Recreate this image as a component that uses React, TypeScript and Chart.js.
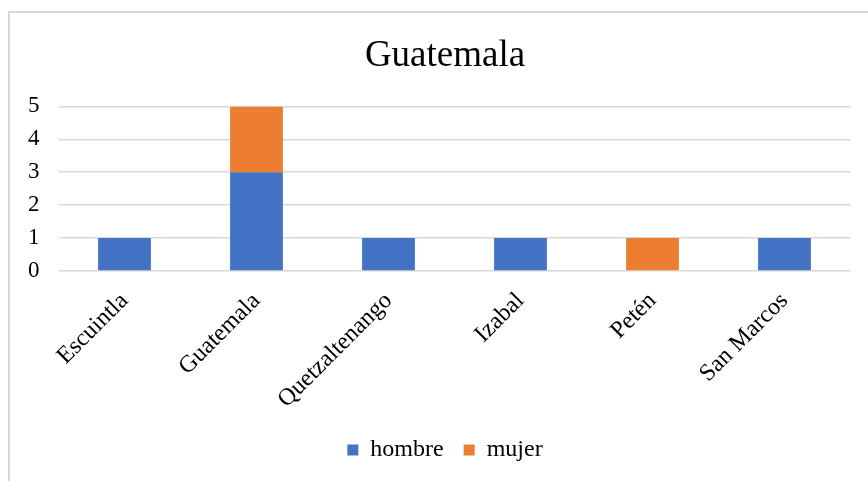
import React, { useEffect, useRef } from "react";
import { Chart, registerables } from "chart.js";

Chart.register(...registerables);

const categories = ["Escuintla", "Guatemala", "Quetzaltenango", "Izabal", "Petén", "San Marcos"];
const hombre = [1, 3, 1, 1, 0, 1];
const mujer = [0, 2, 0, 0, 1, 0];
const yTicks = [0, 1, 2, 3, 4, 5];
const titleText = "Guatemala";

const FONT = "'Liberation Serif', 'Times New Roman', serif";

export default function App() {
  const ref = useRef<HTMLCanvasElement | null>(null);

  useEffect(() => {
    if (!ref.current) return;
    const chart = new Chart(ref.current, {
      type: "bar",
      data: {
        labels: categories,
        datasets: [
          { label: "hombre", data: hombre, backgroundColor: "#4472C4", borderWidth: 0 },
          { label: "mujer", data: mujer, backgroundColor: "#ED7D31", borderWidth: 0 },
        ],
      },
      options: {
        animation: false,
        responsive: false,
        maintainAspectRatio: false,
        layout: { padding: { left: 12, right: 0, top: 0, bottom: 9 } },
        datasets: { bar: { barPercentage: 0.4, categoryPercentage: 1 } },
        plugins: {
          title: {
            display: true,
            text: titleText,
            color: "#000",
            font: { family: FONT, size: 37, weight: "normal" },
            padding: { top: 21, bottom: 28 },
          },
          legend: {
            position: "bottom",
            labels: {
              color: "#000",
              font: { family: FONT, size: 24 },
              boxWidth: 11,
              boxHeight: 11,
              padding: 20,
            },
          },
          tooltip: { enabled: false },
        },
        scales: {
          x: {
            stacked: true,
            grid: { display: false },
            border: { display: false },
            ticks: {
              color: "#000",
              font: { family: FONT, size: 24 },
              minRotation: 45,
              maxRotation: 45,
              autoSkip: false,
              padding: 8,
            },
            afterFit: (s: any) => {
              s.height = 147;
            },
          },
          y: {
            stacked: true,
            min: 0,
            max: 5,
            grid: { color: "#d9d9d9", lineWidth: 1.5, drawTicks: false },
            border: { display: false },
            ticks: {
              color: "#000",
              font: { family: FONT, size: 23 },
              stepSize: 1,
              padding: 19,
              callback: (v: any) => (yTicks.includes(Number(v)) ? String(v) : ""),
            },
            afterFit: (s: any) => {
              s.width = 36.5;
            },
          },
          yR: {
            position: "right",
            display: true,
            min: 0,
            max: 5,
            grid: { display: false, drawTicks: false },
            border: { display: false },
            ticks: { display: false },
            afterFit: (s: any) => {
              s.width = 17.5;
            },
          },
        },
      },
    });
    return () => chart.destroy();
  }, []);

  return (
    <div
      style={{
        position: "absolute",
        left: 8,
        top: 11,
        width: 860,
        height: 470,
        borderTop: "2px solid #d9d9d9",
        borderLeft: "2px solid #d9d9d9",
        boxSizing: "border-box",
        background: "#fff",
      }}
    >
      <canvas ref={ref} width={858} height={468} style={{ display: "block" }} />
    </div>
  );
}
